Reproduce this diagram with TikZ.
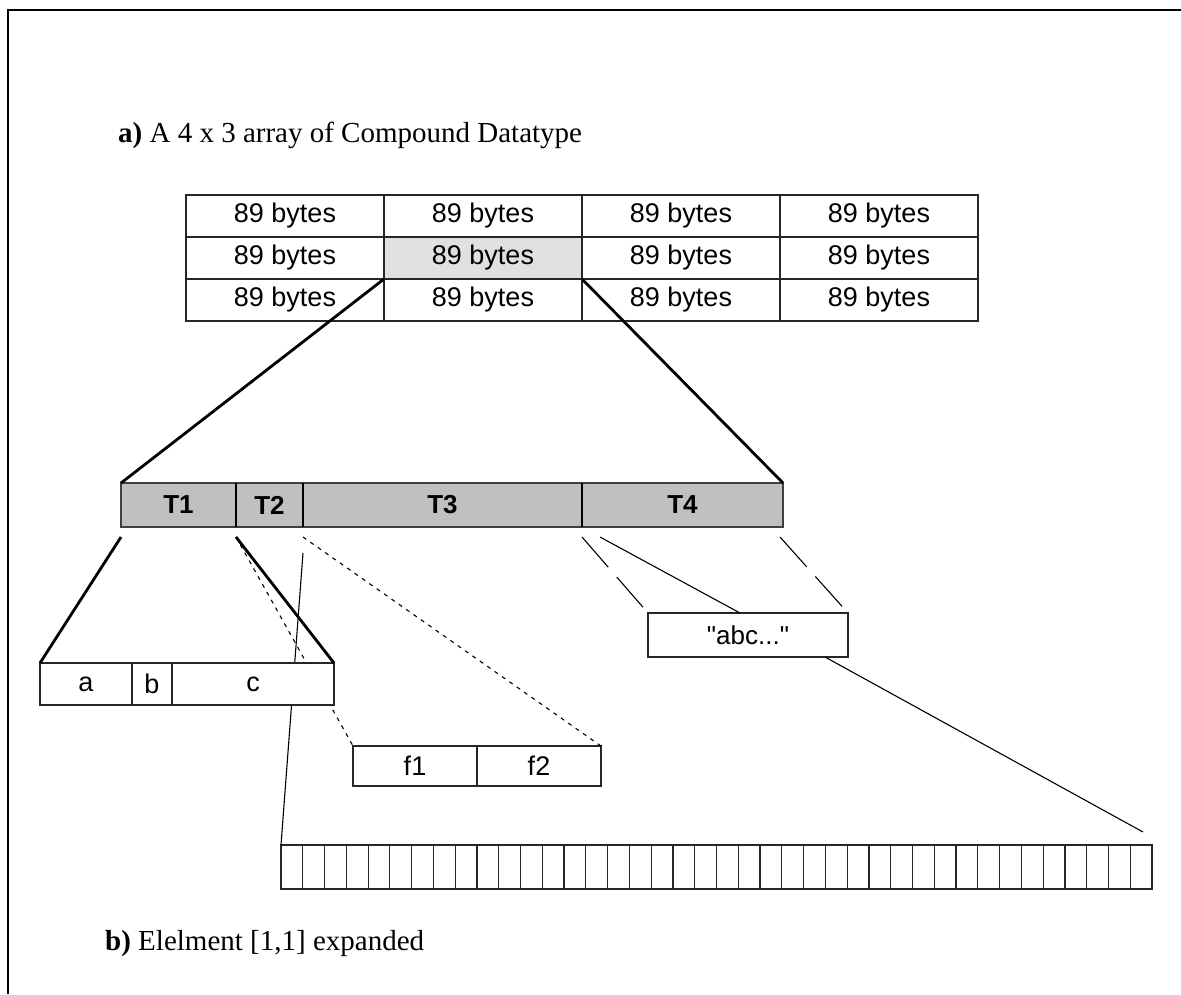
\documentclass[tikz,border=0pt]{standalone}
\usepackage{fontspec}
\setmainfont{Liberation Serif}
\newfontfamily\arialf{Liberation Sans}
\definecolor{hlgray}{HTML}{E0E0E0}
\definecolor{bargray}{HTML}{C0C0C0}
\begin{document}
\begin{tikzpicture}[x=1pt,y=-1pt,
  cellbox/.style={draw=black!85, line width=1.2pt, inner sep=0pt, outer sep=0pt,
    anchor=north west, fill=white, font=\arialf\fontsize{27}{30}\selectfont},
  barbox/.style={draw=black!75, line width=1.2pt, fill=bargray, inner sep=0pt, outer sep=0pt,
    anchor=north west, minimum height=44pt, font=\arialf\bfseries\fontsize{26}{28}\selectfont},
  sepline/.style={line width=2.6pt, black},
  thickline/.style={line width=2.8pt, black},
  thinline/.style={line width=1.1pt, black},
  dotline/.style={line width=1.1pt, black, dash pattern=on 4pt off 5pt},
  longdashline/.style={line width=1.1pt, black, dash pattern=on 40pt off 13pt},
  caption/.style={anchor=base west, inner sep=0pt, font=\fontsize{29}{33}\selectfont}]
\useasboundingbox (0,0) rectangle (1181,994);
\fill[white] (0,0) rectangle (1181,994);
% frame
\draw[line width=2pt] (1181,10) -- (8,10) -- (8,994);
% captions
\node[caption] (capa) at (118,142) {\textbf{a)} A 4 x 3 array of Compound Datatype};
\node[caption] (capb) at (105,950) {\textbf{b)} Elelment [1,1] expanded};
% 4 x 3 table
\foreach \r/\y in {1/195,2/237,3/279}{
  \foreach \c/\x in {1/186,2/384,3/582,4/780}{
    \node[cellbox, minimum width=198pt, minimum height=42pt] (c\r\c) at (\x,\y) {89 bytes};
  }
}
\node[cellbox, fill=hlgray, minimum width=198pt, minimum height=42pt] (c22) at (384,237) {89 bytes};
% compound bar
\node[barbox, minimum width=115pt] (T1) at (121,483) {T1};
\node[barbox, minimum width=67pt] (T2) at (236,483) {T2};
\node[barbox, minimum width=279pt] (T3) at (303,483) {T3};
\node[barbox, minimum width=201pt] (T4) at (582,483) {T4};
\draw[sepline] (T1.north east) -- (T1.south east);
\draw[sepline] (T2.north east) -- (T2.south east);
\draw[sepline] (T3.north east) -- (T3.south east);
% sub boxes
\node[cellbox, minimum width=92pt, minimum height=42pt] (a) at (40,663) {a};
\node[cellbox, minimum width=40pt, minimum height=42pt] (b) at (132,663) {b};
\node[cellbox, minimum width=162pt, minimum height=42pt] (c) at (172,663) {c};
\node[cellbox, minimum width=124pt, minimum height=40pt] (f1) at (353,746) {f1};
\node[cellbox, minimum width=124pt, minimum height=40pt] (f2) at (477,746) {f2};
\node[cellbox, minimum width=200pt, minimum height=44pt, font=\arialf\fontsize{26}{28}\selectfont] (abc) at (648,613) {"abc..."};
\foreach \i in {1,...,40}{
  \node[cellbox, minimum width=21.775pt, minimum height=44pt] (arr\i) at ({281+(\i-1)*21.775},845) {};
}
% connectors from the table cell to the bar
\draw[thickline] (c22.south west) -- (T1.north west);
\draw[thickline] (c22.south east) -- (T4.north east);
% connectors passing behind box c
\draw[dotline] ([yshift=-10pt]T2.south west) -- (f1.north west);
\draw[thinline] ([yshift=-26pt]T3.south west) -- (arr1.north west);
% box c again, on top of the lines that pass behind it
\node[cellbox, minimum width=162pt, minimum height=42pt] (c) at (172,663) {c};
\draw[thickline] ([yshift=-10pt]T1.south west) -- (a.north west);
\draw[thickline] ([yshift=-10pt]T1.south east) -- (c.north east);
\draw[dotline] ([yshift=-10pt]T2.south east) -- (f2.north east);
% T4 connectors
\draw[longdashline] ([yshift=-10pt]T4.south west) -- (abc.north west);
\draw[thinline] ([xshift=18pt,yshift=-10pt]T4.south west) -- ([xshift=-8pt]abc.north);
\draw[longdashline] ([xshift=-3pt,yshift=-10pt]T4.south east) -- (abc.north east);
\draw[thinline] ([xshift=-23pt]abc.south east) -- ([xshift=-9pt,yshift=13pt]arr40.north east);
\end{tikzpicture}
\end{document}
